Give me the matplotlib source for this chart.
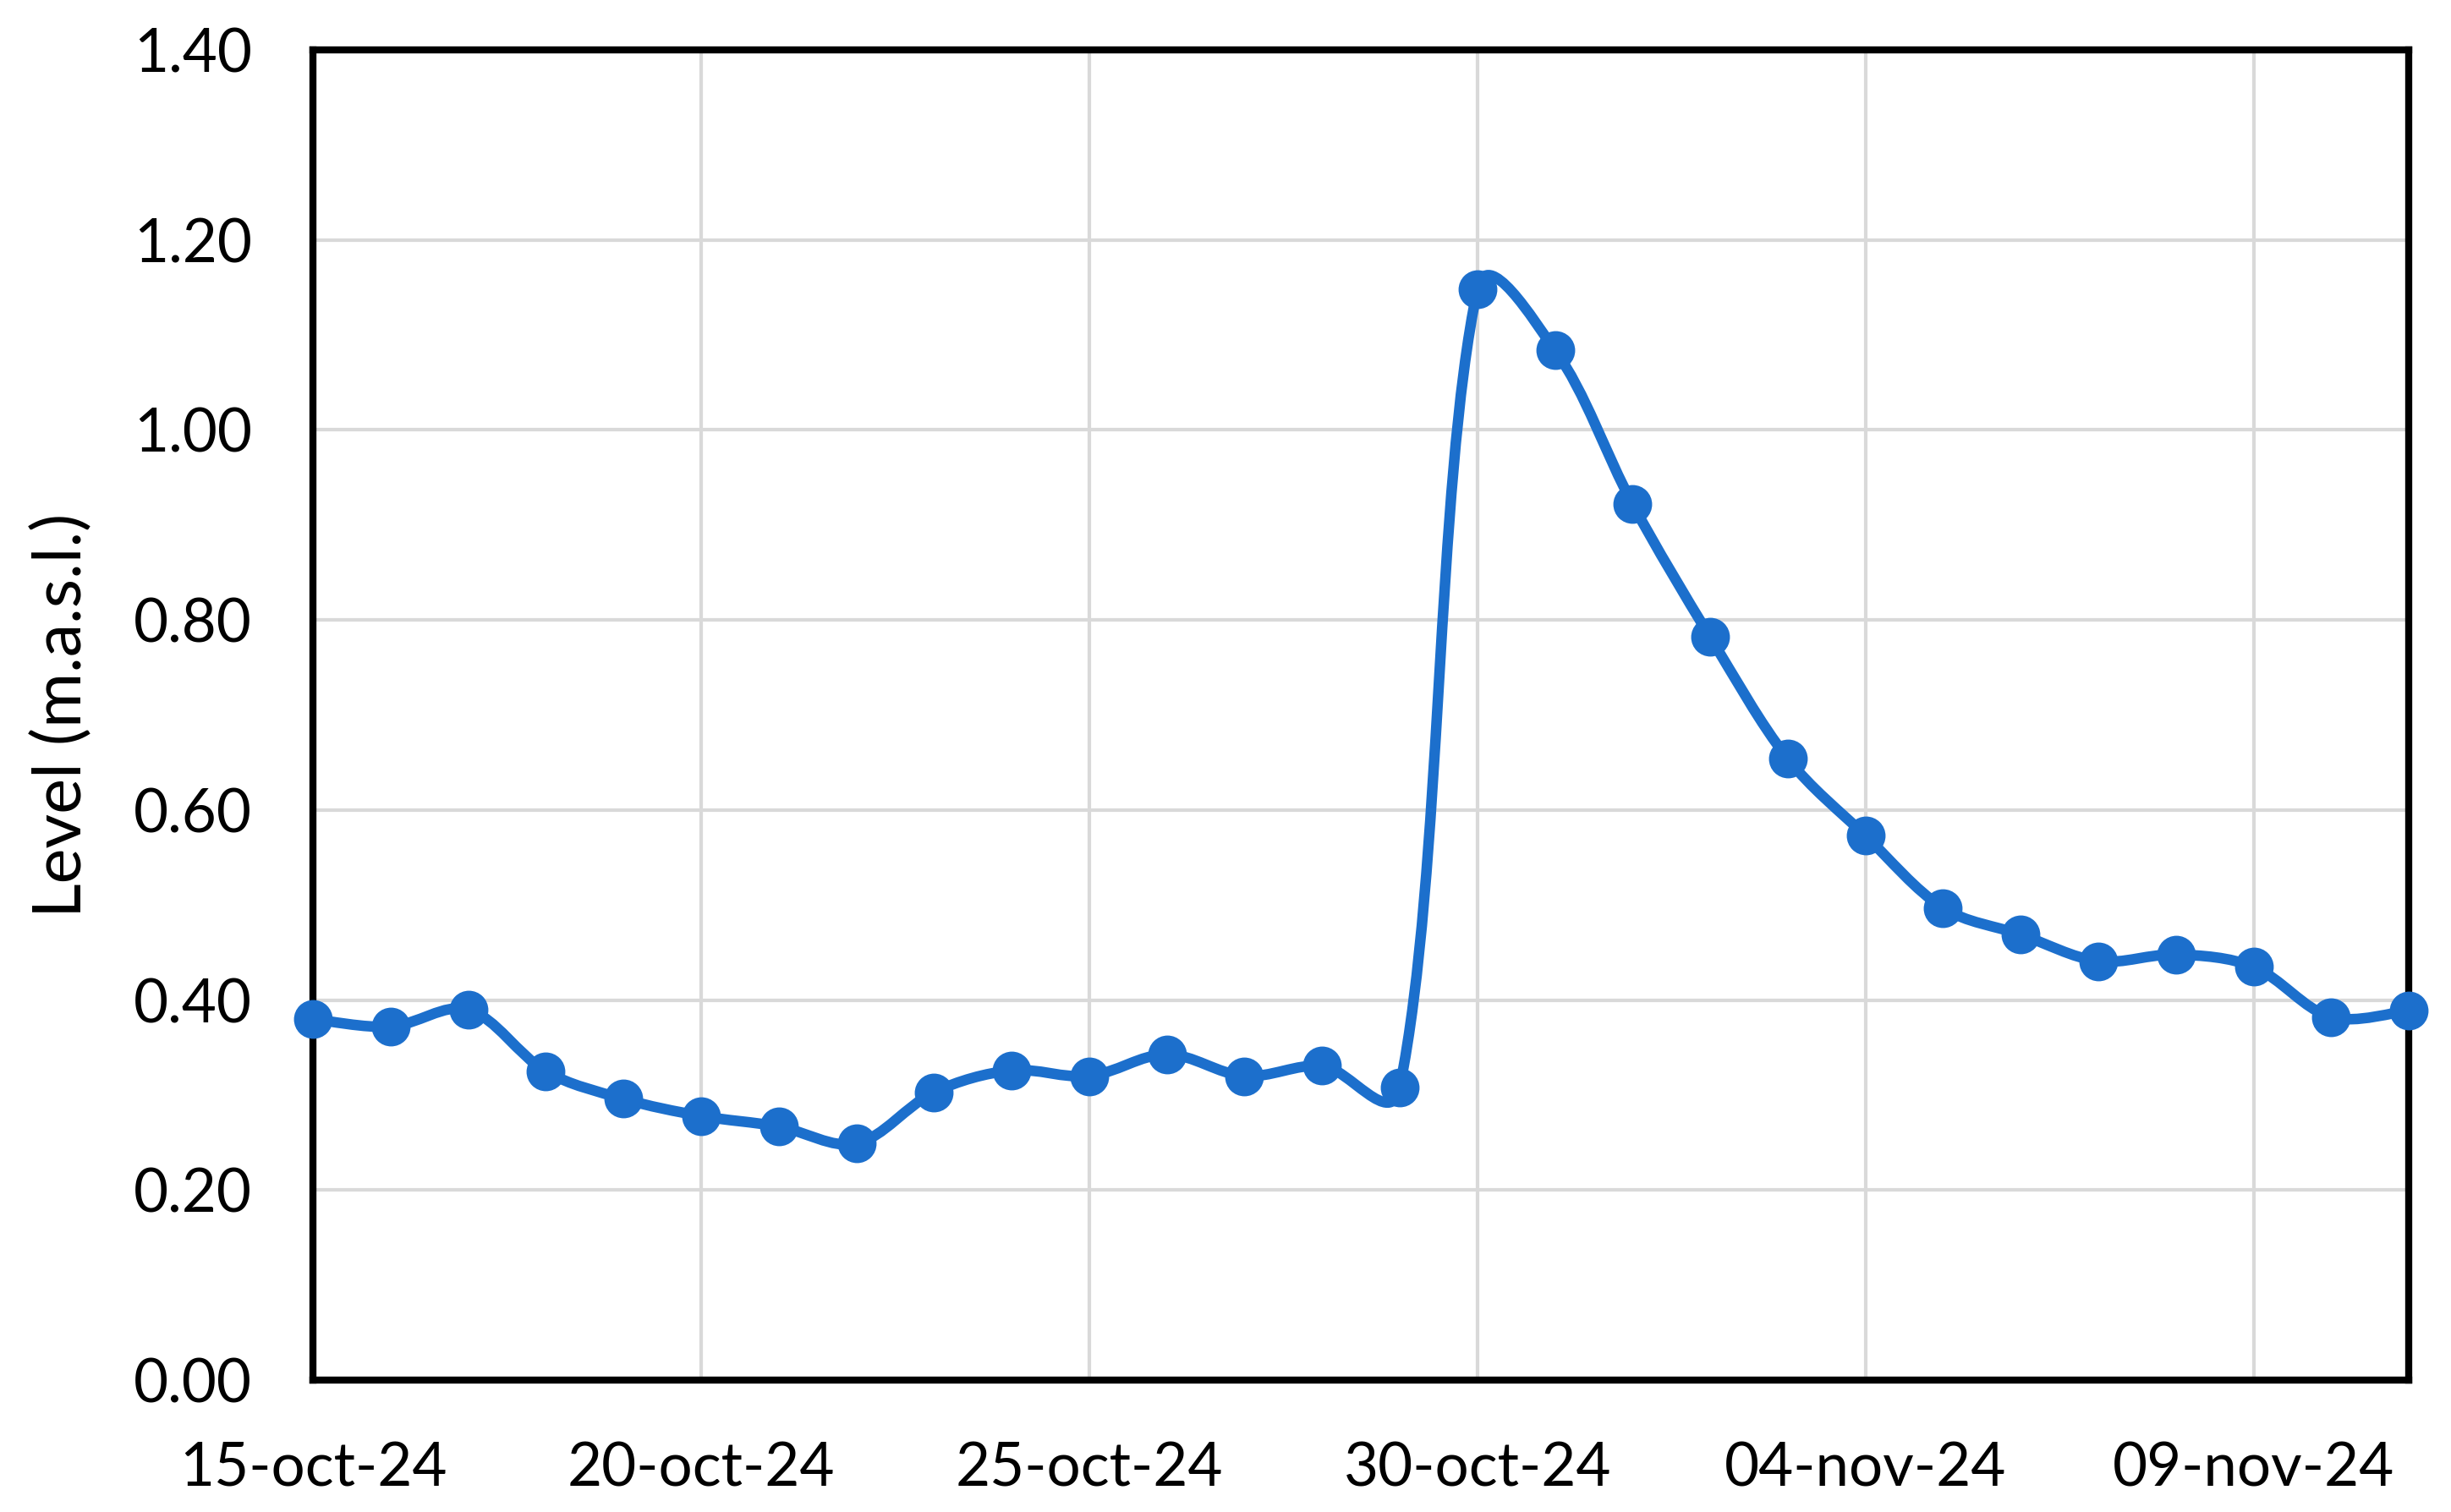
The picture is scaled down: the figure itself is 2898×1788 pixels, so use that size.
import numpy as np
import pandas as pd
import matplotlib
matplotlib.use("Agg")
import matplotlib.pyplot as plt
import matplotlib.dates as mdates
from matplotlib.path import Path
from matplotlib.patches import PathPatch

# Datos: nivel diario (m.s.n.m.)
fechas = pd.date_range("2024-10-15", "2024-11-11", freq="D")
niveles = [0.38, 0.372, 0.39, 0.325, 0.296, 0.278, 0.267, 0.249, 0.303, 0.326,
           0.320, 0.343, 0.320, 0.331, 0.308, 1.148, 1.084, 0.922, 0.782, 0.654,
           0.573, 0.497, 0.469, 0.441, 0.448, 0.435, 0.382, 0.389]
ticks_x = ["2024-10-15", "2024-10-20", "2024-10-25", "2024-10-30",
           "2024-11-04", "2024-11-09"]
ticks_y = [0.0, 0.2, 0.4, 0.6, 0.8, 1.0, 1.2, 1.4]

AZUL = "#1c6fcc"
FUENTE = "Lato"

plt.rcParams["font.family"] = [FUENTE, "DejaVu Sans"]

fig = plt.figure(figsize=(28.98, 17.88), dpi=100)
ax = fig.add_axes([0.1277, 0.0872, 0.8551, 0.8798])

ax.set_xlim(fechas[0], fechas[-1])
ax.set_ylim(0, 1.4)

# Curva suavizada tipo Excel: Bezier cúbica con tangentes
# ponderadas por la longitud de los tramos (en pixeles)
x = mdates.date2num(fechas)
y = np.array(niveles)
pts = np.column_stack([x, y])
pix = ax.transData.transform(pts)
n = len(pts)


def largo(i, j):
    return np.hypot(*(pix[j] - pix[i])) ** 0.7


verts = [pts[0]]
codes = [Path.MOVETO]
for i in range(n - 1):
    i0 = max(i - 1, 0)
    i3 = min(i + 2, n - 1)
    d01 = largo(i0, i)
    d12 = largo(i, i + 1)
    d23 = largo(i + 1, i3)
    f1 = d12 / (d01 + d12) / 3.0 if d01 > 0 else 1 / 3.0
    f2 = d12 / (d12 + d23) / 3.0 if d23 > 0 else 1 / 3.0
    if i == 0:
        f1 = 1 / 6.0
    if i + 2 > n - 1:
        f2 = 1 / 6.0
    c1 = pts[i] + (pts[i + 1] - pts[i0]) * f1
    c2 = pts[i + 1] - (pts[i3] - pts[i]) * f2
    verts += [c1, c2, pts[i + 1]]
    codes += [Path.CURVE4] * 3
curva = PathPatch(Path(verts, codes), facecolor="none", edgecolor=AZUL,
                  lw=9, capstyle="round", joinstyle="round", zorder=3,
                  clip_on=False)
ax.add_patch(curva)
ax.plot(fechas, niveles, linestyle="none", marker="o", markersize=32,
        color=AZUL, zorder=4, clip_on=False)

ax.set_yticks(ticks_y)
ax.set_yticklabels([f"{v:.2f}" for v in ticks_y])
ax.set_xticks(pd.to_datetime(ticks_x))
ax.set_xticklabels([pd.Timestamp(t).strftime("%d-%b-%y").lower() for t in ticks_x])

ax.grid(True, color="#d9d9d9", linewidth=3)
ax.set_axisbelow(True)
for sp in ax.spines.values():
    sp.set_linewidth(6)
    sp.set_color("black")
ax.tick_params(length=0, labelsize=51, colors="black")
ax.tick_params(axis="x", pad=52)
ax.tick_params(axis="y", pad=52)
ax.set_ylabel("Level (m.a.s.l.)", fontsize=57, labelpad=34)

fig.savefig("out.png", dpi=100)
